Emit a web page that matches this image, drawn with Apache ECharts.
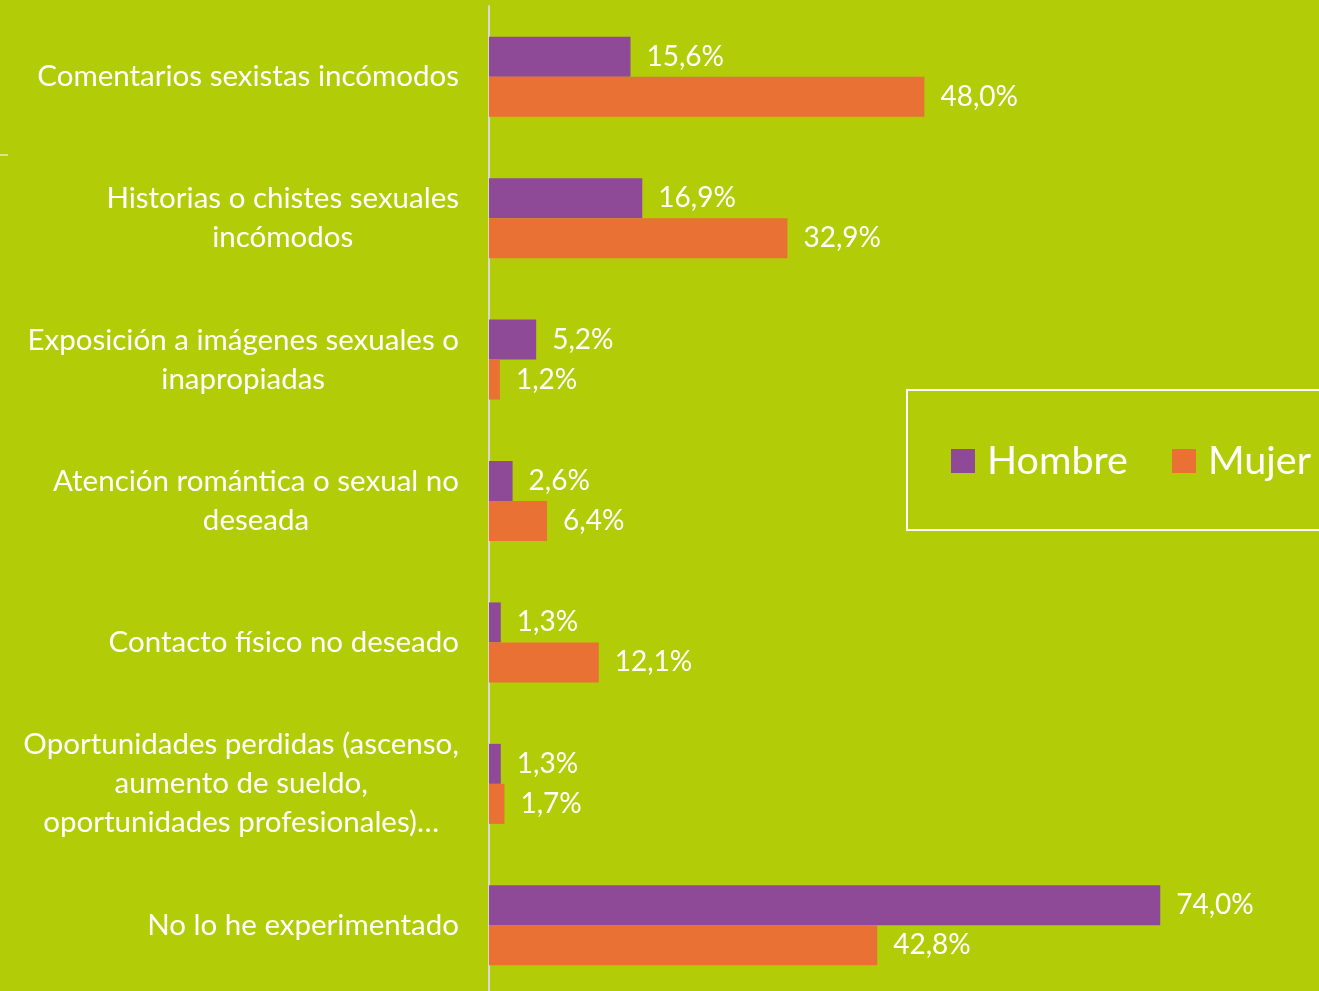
<!DOCTYPE html>
<html>
<head>
<meta charset="utf-8">
<script src="https://cdn.jsdelivr.net/npm/echarts@6/dist/echarts.min.js"></script>
<style>
  html, body { margin: 0; padding: 0; background: #b2cc07; }
  #chart { width: 1319px; height: 991px; }
</style>
</head>
<body>
<div id="chart"></div>
<script>
  const categories = [
    'Comentarios sexistas incómodos',
    'Historias o chistes sexuales\nincómodos',
    'Exposición a imágenes sexuales o\ninapropiadas',
    'Atención romántica o sexual no\ndeseada',
    'Contacto físico no deseado',
    'Oportunidades perdidas (ascenso,\naumento de sueldo,\noportunidades profesionales)…',
    'No lo he experimentado'
  ]
  const hombre = [15.6, 16.9, 5.2, 2.6, 1.3, 1.3, 74.0]
  const mujer = [48.0, 32.9, 1.2, 6.4, 12.1, 1.7, 42.8]

  const font = 'Lato, "Open Sans", sans-serif'
  const pct = v => v.toFixed(1).replace('.', ',') + '%'

  const chart = echarts.init(document.getElementById('chart'))
  chart.setOption({
    animation: false,
    backgroundColor: '#b2cc07',
    grid: { left: 489, right: 0, top: 6, height: 990, outerBoundsMode: 'none' },
    xAxis: { type: 'value', min: 0, max: 91.5, show: false },
    yAxis: {
      type: 'category',
      inverse: true,
      data: categories,
      axisLine: { show: true, lineStyle: { color: '#d9d9d9', width: 2 } },
      axisTick: { show: false },
      axisLabel: {
        margin: 30,
        align: 'right',
        color: '#fff',
        fontFamily: font,
        fontSize: 29.5,
        lineHeight: 39,
        formatter: v => v.split('\n').map(l => '{c|' + l + '}').join('\n'),
        rich: { c: { align: 'center', color: '#fff', fontFamily: font, fontSize: 29.5, lineHeight: 39 } }
      }
    },
    legend: {
      left: 951,
      top: 441,
      padding: 0,
      itemWidth: 24,
      itemHeight: 24,
      itemGap: 44,
      icon: 'rect',
      textStyle: { color: '#fff', fontFamily: font, fontSize: 39.5, padding: [0, 0, 0, 7] },
      data: ['Hombre', 'Mujer']
    },
    graphic: [
      { type: 'rect', shape: { x: 907, y: 390, width: 420, height: 140 },
        style: { fill: 'none', stroke: '#fff', lineWidth: 2 } },
      { type: 'line', shape: { x1: 0, y1: 155, x2: 8, y2: 155 },
        style: { stroke: '#fff', lineWidth: 1 } }
    ],
    series: [{
      name: 'Hombre',
      type: 'bar',
      data: hombre,
      barWidth: 40,
      barGap: '0%',
      itemStyle: { color: '#8f4a97' },
      label: { show: true, position: 'right', distance: 16, padding: [5, 0, 0, 0], color: '#fff', fontFamily: font, fontSize: 28, formatter: p => pct(p.value) }
    }, {
      name: 'Mujer',
      type: 'bar',
      data: mujer,
      barWidth: 40,
      barGap: '0%',
      itemStyle: { color: '#e97133' },
      label: { show: true, position: 'right', distance: 16, padding: [5, 0, 0, 0], color: '#fff', fontFamily: font, fontSize: 28, formatter: p => pct(p.value) }
    }]
  })
</script>
</body>
</html>
